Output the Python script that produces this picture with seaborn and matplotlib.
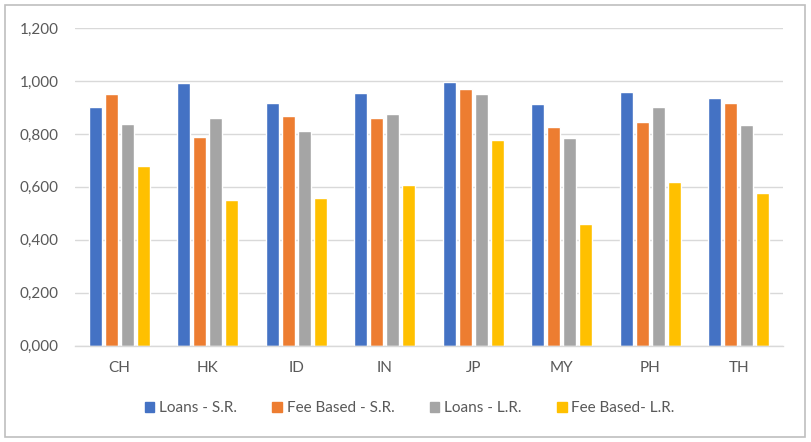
import matplotlib
matplotlib.use("Agg")
import matplotlib.pyplot as plt
import matplotlib.ticker as mticker
from matplotlib.patches import Rectangle
import pandas as pd
import seaborn as sns

# values
countries = ["CH", "HK", "ID", "IN", "JP", "MY", "PH", "TH"]
loans_sr = [0.901, 0.991, 0.916, 0.953, 0.996, 0.912, 0.957, 0.935]
fee_sr = [0.950, 0.787, 0.867, 0.859, 0.969, 0.825, 0.844, 0.916]
loans_lr = [0.836, 0.859, 0.810, 0.874, 0.950, 0.784, 0.901, 0.833]
fee_lr = [0.678, 0.550, 0.557, 0.606, 0.776, 0.459, 0.618, 0.576]
series_names = ["Loans - S.R.", "Fee Based - S.R.", "Loans - L.R.", "Fee Based- L.R."]
colors = ["#4472C4", "#ED7D31", "#A5A5A5", "#FFC000"]

rows = []
for name, vals in zip(series_names, [loans_sr, fee_sr, loans_lr, fee_lr]):
    for c, v in zip(countries, vals):
        rows.append({"country": c, "series": name, "value": v})
df = pd.DataFrame(rows)

sns.set_style("white")
plt.rcParams['font.family'] = ['Lato', 'DejaVu Sans']
text_color = "#595959"

fig = plt.figure(figsize=(8.11, 4.42), dpi=100)
ax = fig.add_axes([75 / 811, 1 - 345.7 / 442, (783 - 75) / 811, (345.7 - 28) / 442])

sns.barplot(data=df, x="country", y="value", hue="series", order=countries,
            hue_order=series_names, palette=colors, width=0.72, gap=0.18,
            saturation=1, ax=ax, legend=True)

ax.set_ylim(0, 1.2)
ax.set_xlim(-0.5, 7.5)
ax.yaxis.set_major_locator(mticker.MultipleLocator(0.2))
ax.yaxis.set_major_formatter(mticker.FuncFormatter(lambda v, p: f"{v:.3f}".replace(".", ",")))
ax.set_xlabel("")
ax.set_ylabel("")
ax.grid(True, axis="y", color="#D9D9D9", linewidth=1)
ax.set_axisbelow(True)
for s in ["top", "left", "right"]:
    ax.spines[s].set_visible(False)
ax.spines["bottom"].set_color("#D9D9D9")
ax.spines["bottom"].set_linewidth(1)
ax.tick_params(axis="both", length=0, labelsize=11, colors=text_color)
ax.tick_params(axis="x", pad=11)
ax.tick_params(axis="y", pad=12)

ax.get_legend().remove()
handles = [Rectangle((0, 0), 1, 1, color=c) for c in colors]
fig.legend(handles, series_names, loc="center", bbox_to_anchor=(0.505, 0.077), ncol=4,
           frameon=False, fontsize=11, labelcolor=text_color, handlelength=0.65,
           handleheight=0.65, handletextpad=0.3, columnspacing=2.3)

# outer chart border
fig.patches.append(Rectangle((5 / 811, 5 / 442), 800 / 811, 432 / 442, transform=fig.transFigure,
                             fill=False, edgecolor="#BFBFBF", linewidth=1.2))

fig.savefig("out.png", dpi=100)
